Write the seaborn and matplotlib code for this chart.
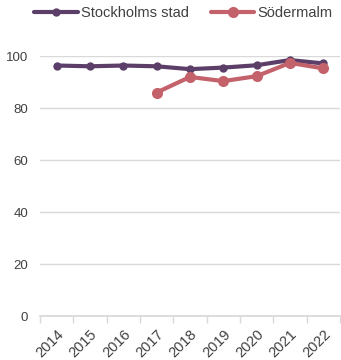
import matplotlib
matplotlib.use("Agg")
import matplotlib.pyplot as plt
import seaborn as sns
import pandas as pd
import numpy as np

years = ["2014", "2015", "2016", "2017", "2018", "2019", "2020", "2021", "2022"]
stockholm = [96.4, 96.1, 96.4, 96.1, 95.0, 95.6, 96.5, 98.5, 97.2]
sodermalm = [None, None, None, 86.0, 92.0, 90.4, 92.3, 97.4, 95.3]
series_names = ["Stockholms stad", "Södermalm"]
colors = ["#5b3f68", "#c4626b"]

sns.set_theme(style="white")
plt.rcParams['font.family'] = ['Liberation Sans', 'DejaVu Sans']

rows = []
for i, y in enumerate(years):
    if stockholm[i] is not None:
        rows.append({"pos": i, "year": y, "value": stockholm[i], "series": series_names[0]})
    if sodermalm[i] is not None:
        rows.append({"pos": i, "year": y, "value": sodermalm[i], "series": series_names[1]})
df = pd.DataFrame(rows)

fig = plt.figure(figsize=(3.41, 3.6), dpi=100)
ax = fig.add_axes([0.117, 0.122, 0.88, 0.722])

for name, col, ms in zip(series_names, colors, [6, 8]):
    sub = df[df.series == name]
    sns.lineplot(data=sub, x="pos", y="value", ax=ax, color=col, linewidth=3,
                 marker="o", markersize=ms, markeredgewidth=0, label=name)

ax.set_xlim(-0.5, len(years) - 0.5)
ax.set_ylim(0, 100)
ax.set_yticks([0, 20, 40, 60, 80, 100])
ax.yaxis.grid(True, color="#d9d9d9", linewidth=1)
ax.set_xticks(np.arange(-0.5, len(years), 1.0))
ax.set_xticklabels([])
ax.set_xticks(np.arange(len(years)), minor=True)
ax.set_xticklabels(years, minor=True, rotation=45, ha="right", va="top",
                   rotation_mode="anchor", color="#404040", fontsize=10.5)
ax.tick_params(axis="x", which="major", length=5, color="#d9d9d9", width=1, direction="out", bottom=True)
ax.tick_params(axis="x", which="minor", length=0, pad=8)
ax.tick_params(axis="y", length=0, labelcolor="#404040", labelsize=9.5, pad=8.5)
for s in ["top", "right", "left"]:
    ax.spines[s].set_visible(False)
ax.spines["bottom"].set_color("#d9d9d9")
ax.set_xlabel("")
ax.set_ylabel("")

leg = ax.legend(loc="center", bbox_to_anchor=(0.478, 1.165), ncol=2, frameon=False,
                fontsize=10.5, handlelength=3.0, columnspacing=1.5, handletextpad=0.2,
                labelcolor="#404040", borderaxespad=0, borderpad=0)

fig.savefig("out.png", dpi=100)
